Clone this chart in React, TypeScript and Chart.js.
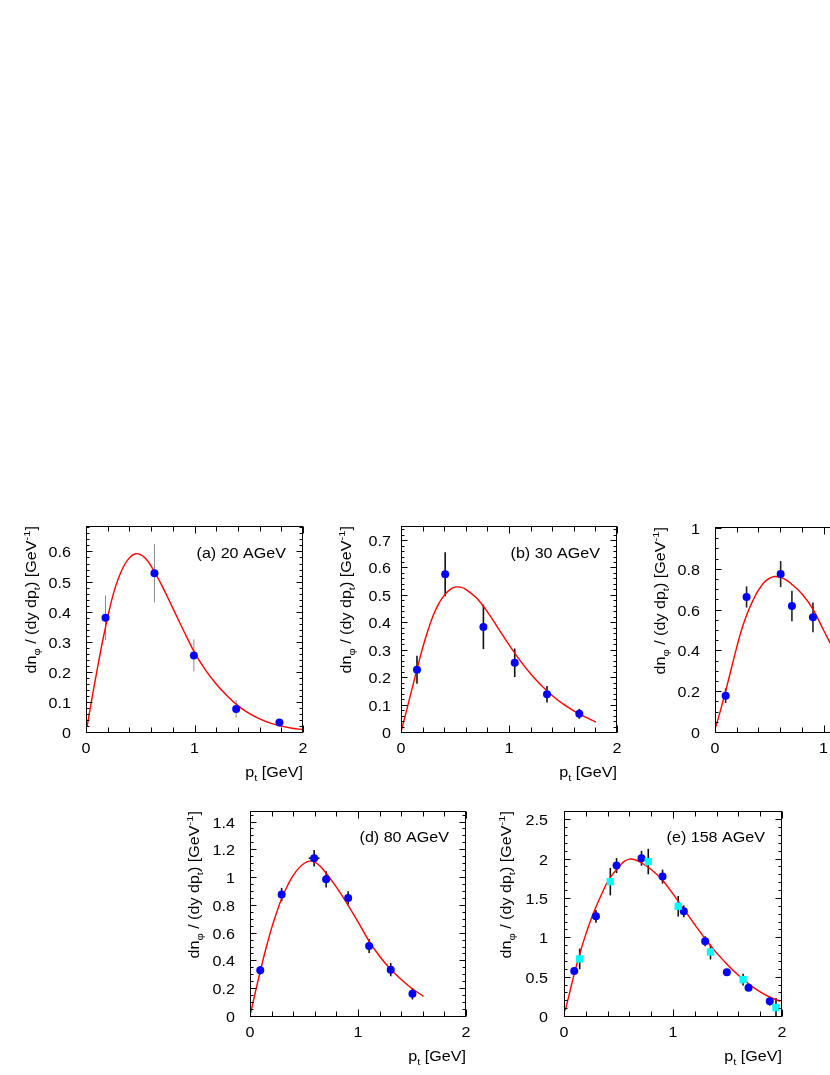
import React, { useEffect, useRef } from 'react';
import { Chart, registerables } from 'chart.js';

Chart.register(...registerables);

const FONT = '"Liberation Sans", Arial, Helvetica, sans-serif';
const STRETCH = 1.15;
const FS = 14;

// ---------------- data ----------------
const xTicks = [0, 1, 2];

// (a) 20 AGeV
const aPt = [0.18, 0.631, 0.994, 1.384, 1.783];
const aVal = [0.383, 0.531, 0.258, 0.08, 0.035];
const aErr = [0.074, 0.097, 0.053, 0.029, 0.006];
const aFitPt = [0.01, 0.05, 0.1, 0.15, 0.2, 0.25, 0.3, 0.35, 0.4, 0.45, 0.5, 0.55, 0.6, 0.65, 0.7, 0.8, 0.9, 1.0, 1.1, 1.2, 1.3, 1.4, 1.5, 1.6, 1.7, 1.8, 1.9, 2.0];
const aFitVal = [0.02, 0.105, 0.205, 0.3, 0.385, 0.46, 0.515, 0.556, 0.582, 0.595, 0.594, 0.58, 0.555, 0.523, 0.49, 0.415, 0.34, 0.268, 0.21, 0.163, 0.124, 0.091, 0.066, 0.047, 0.033, 0.023, 0.016, 0.011];
const aYTicks = [0, 0.1, 0.2, 0.3, 0.4, 0.5, 0.6];

// (b) 30 AGeV
const bPt = [0.148, 0.409, 0.763, 1.053, 1.352, 1.651];
const bVal = [0.231, 0.579, 0.387, 0.256, 0.141, 0.07];
const bErr = [0.051, 0.08, 0.081, 0.052, 0.03, 0.018];
const bFitPt = [0.005, 0.05, 0.1, 0.15, 0.2, 0.25, 0.3, 0.35, 0.4, 0.45, 0.5, 0.55, 0.6, 0.7, 0.8, 0.9, 1.0, 1.1, 1.2, 1.3, 1.4, 1.5, 1.6, 1.7, 1.805];
const bFitVal = [0.011, 0.08, 0.158, 0.235, 0.31, 0.375, 0.43, 0.472, 0.502, 0.522, 0.532, 0.532, 0.524, 0.492, 0.442, 0.382, 0.322, 0.266, 0.216, 0.173, 0.137, 0.106, 0.081, 0.06, 0.04];
const bYTicks = [0, 0.1, 0.2, 0.3, 0.4, 0.5, 0.6, 0.7];

// (c) 40 AGeV (cut at the right edge)
const cPt = [0.098, 0.291, 0.605, 0.709, 0.903];
const cVal = [0.183, 0.667, 0.779, 0.623, 0.567];
const cErr = [0.036, 0.052, 0.064, 0.075, 0.073];
const cFitPt = [0.006, 0.05, 0.1, 0.15, 0.2, 0.25, 0.3, 0.35, 0.4, 0.45, 0.5, 0.55, 0.6, 0.65, 0.7, 0.8, 0.9, 1.0, 1.1, 1.2];
const cFitVal = [0.028, 0.11, 0.21, 0.315, 0.42, 0.515, 0.59, 0.65, 0.7, 0.737, 0.758, 0.767, 0.764, 0.752, 0.733, 0.683, 0.61, 0.505, 0.405, 0.325];
const cYTicks = [0, 0.2, 0.4, 0.6, 0.8, 1];

// (d) 80 AGeV
const dPt = [0.095, 0.293, 0.594, 0.705, 0.909, 1.103, 1.303, 1.504];
const dVal = [0.336, 0.881, 1.143, 0.991, 0.857, 0.511, 0.341, 0.168];
const dErr = [0.03, 0.048, 0.06, 0.058, 0.048, 0.05, 0.048, 0.042];
const dPtErr = [0, 0, 0.05, 0, 0, 0, 0, 0];
const dFitPt = [0.006, 0.05, 0.1, 0.15, 0.2, 0.25, 0.3, 0.35, 0.4, 0.45, 0.5, 0.55, 0.6, 0.65, 0.7, 0.8, 0.9, 1.0, 1.1, 1.2, 1.3, 1.4, 1.5, 1.606];
const dFitVal = [0.029, 0.18, 0.345, 0.5, 0.64, 0.76, 0.865, 0.95, 1.02, 1.07, 1.105, 1.122, 1.115, 1.085, 1.04, 0.935, 0.815, 0.685, 0.55, 0.437, 0.345, 0.27, 0.205, 0.149];
const dYTicks = [0, 0.2, 0.4, 0.6, 0.8, 1, 1.2, 1.4];

// (e) 158 AGeV
const eCirclePt = [0.094, 0.293, 0.482, 0.711, 0.904, 1.099, 1.295, 1.494, 1.693, 1.888];
const eCircleVal = [0.585, 1.28, 1.924, 2.017, 1.784, 1.343, 0.962, 0.568, 0.371, 0.2];
const eCircleErr = [0.04, 0.081, 0.095, 0.095, 0.089, 0.075, 0.063, 0.04, 0.04, 0.055];
const eSquarePt = [0.144, 0.425, 0.773, 1.048, 1.344, 1.643, 1.945];
const eSquareVal = [0.738, 1.72, 1.975, 1.407, 0.826, 0.475, 0.12];
const eSquareErr = [0.131, 0.175, 0.162, 0.131, 0.095, 0.075, 0.12];
const eFitPt = [0.012, 0.05, 0.1, 0.15, 0.2, 0.25, 0.3, 0.35, 0.4, 0.45, 0.5, 0.55, 0.6, 0.65, 0.7, 0.8, 0.9, 1.0, 1.1, 1.2, 1.3, 1.4, 1.5, 1.6, 1.7, 1.8, 1.9, 1.985];
const eFitVal = [0.085, 0.3, 0.58, 0.83, 1.05, 1.25, 1.42, 1.575, 1.72, 1.82, 1.9, 1.975, 2.006, 1.998, 1.968, 1.875, 1.745, 1.565, 1.37, 1.175, 0.985, 0.815, 0.665, 0.53, 0.415, 0.32, 0.245, 0.2];
const eYTicks = [0, 0.5, 1, 1.5, 2, 2.5];

// ---------------- config ----------------
type Series = { x: number[]; y: number[]; ey: number[]; ex?: number[]; color: string; style: 'circle' | 'rect'; radius: number };
type PanelCfg = {
  label: string;
  L: number; T: number; R: number; B: number;
  yMax: number; yTicks: number[]; yMinorDiv: number;
  fitX: number[]; fitY: number[];
  series: Series[];
  errColor: string; errWidth: number;
  labelGap: number; titleOff: number; legendDy: number;
};

const BLUE = '#0000ff';
const CYAN = '#00ffff';

const panels: PanelCfg[] = [
  {
    label: '(a) 20 AGeV', L: 86, T: 526, R: 303, B: 733, yMax: 0.688, yTicks: aYTicks, yMinorDiv: 5,
    fitX: aFitPt, fitY: aFitVal,
    series: [{ x: aPt, y: aVal, ey: aErr, color: BLUE, style: 'circle', radius: 4 }],
    errColor: '#8a8a8a', errWidth: 1, labelGap: 15, titleOff: 50, legendDy: 32,
  },
  {
    label: '(b) 30 AGeV', L: 401, T: 526, R: 617, B: 733, yMax: 0.755, yTicks: bYTicks, yMinorDiv: 5,
    fitX: bFitPt, fitY: bFitVal,
    series: [{ x: bPt, y: bVal, ey: bErr, color: BLUE, style: 'circle', radius: 4 }],
    errColor: '#111', errWidth: 1.6, labelGap: 10, titleOff: 50, legendDy: 32,
  },
  {
    label: '', L: 715, T: 527, R: 932, B: 733, yMax: 1.01, yTicks: cYTicks, yMinorDiv: 4,
    fitX: cFitPt, fitY: cFitVal,
    series: [{ x: cPt, y: cVal, ey: cErr, color: BLUE, style: 'circle', radius: 4 }],
    errColor: '#222', errWidth: 1.6, labelGap: 15, titleOff: 50, legendDy: 32,
  },
  {
    label: '(d) 80 AGeV', L: 250, T: 811, R: 466, B: 1017, yMax: 1.483, yTicks: dYTicks, yMinorDiv: 4,
    fitX: dFitPt, fitY: dFitVal,
    series: [{ x: dPt, y: dVal, ey: dErr, ex: dPtErr, color: BLUE, style: 'circle', radius: 4 }],
    errColor: '#111', errWidth: 1.6, labelGap: 15, titleOff: 51, legendDy: 31,
  },
  {
    label: '(e) 158 AGeV', L: 564, T: 811, R: 782, B: 1017, yMax: 2.618, yTicks: eYTicks, yMinorDiv: 5,
    fitX: eFitPt, fitY: eFitVal,
    series: [
      { x: eCirclePt, y: eCircleVal, ey: eCircleErr, color: BLUE, style: 'circle', radius: 4 },
      { x: eSquarePt, y: eSquareVal, ey: eSquareErr, color: CYAN, style: 'rect', radius: 5.2 },
    ],
    errColor: '#111', errWidth: 1.6, labelGap: 16, titleOff: 53, legendDy: 31,
  },
];

// ---------------- text helpers ----------------
type Seg = { t: string; k?: 'sub' | 'sup' };
const yTitle: Seg[] = [
  { t: 'dn' }, { t: 'φ', k: 'sub' }, { t: ' / (dy dp' }, { t: 't', k: 'sub' }, { t: ') [GeV' }, { t: '-1', k: 'sup' }, { t: ']' },
];
const xTitle: Seg[] = [{ t: 'p' }, { t: 't', k: 'sub' }, { t: ' [GeV]' }];

function fmt(v: number) {
  return String(Math.round(v * 100) / 100);
}

function drawText(ctx: CanvasRenderingContext2D, s: string, x: number, y: number, align: CanvasTextAlign) {
  ctx.save();
  ctx.translate(x, y);
  ctx.scale(STRETCH, 1);
  ctx.font = `${FS}px ${FONT}`;
  ctx.textAlign = align;
  ctx.textBaseline = 'alphabetic';
  ctx.fillStyle = '#000';
  ctx.fillText(s, 0, 0);
  ctx.restore();
}

function drawRich(ctx: CanvasRenderingContext2D, segs: Seg[], x: number, y: number, rot: number) {
  ctx.save();
  ctx.translate(x, y);
  if (rot) ctx.rotate(rot);
  ctx.scale(STRETCH, 1);
  ctx.textBaseline = 'alphabetic';
  ctx.textAlign = 'left';
  ctx.fillStyle = '#000';
  const fontOf = (k?: string) => `${k ? FS * 0.7 : FS}px ${FONT}`;
  let total = 0;
  const widths = segs.map((s) => {
    ctx.font = fontOf(s.k);
    const w = ctx.measureText(s.t).width;
    total += w;
    return w;
  });
  let cx = -total;
  segs.forEach((s, i) => {
    ctx.font = fontOf(s.k);
    const dy = s.k === 'sub' ? FS * 0.3 : s.k === 'sup' ? -FS * 0.42 : 0;
    ctx.fillText(s.t, cx, dy);
    cx += widths[i];
  });
  ctx.restore();
}

function makePlugin(cfg: PanelCfg) {
  return {
    id: 'rootStyle',
    beforeDatasetsDraw(chart: any) {
      const ctx: CanvasRenderingContext2D = chart.ctx;
      const xs = chart.scales.x;
      const ys = chart.scales.y;
      const a = chart.chartArea;
      ctx.save();
      ctx.beginPath();
      ctx.rect(a.left, a.top, a.right - a.left, a.bottom - a.top);
      ctx.clip();
      ctx.strokeStyle = cfg.errColor;
      ctx.lineWidth = cfg.errWidth;
      cfg.series.forEach((s) => {
        s.x.forEach((xv, i) => {
          const px = xs.getPixelForValue(xv);
          const y1 = ys.getPixelForValue(s.y[i] + s.ey[i]);
          const y2 = ys.getPixelForValue(Math.max(0, s.y[i] - s.ey[i]));
          ctx.beginPath();
          ctx.moveTo(px, y1);
          ctx.lineTo(px, y2);
          ctx.stroke();
          const ex = s.ex ? s.ex[i] : 0;
          if (ex > 0) {
            const py = ys.getPixelForValue(s.y[i]);
            ctx.beginPath();
            ctx.moveTo(xs.getPixelForValue(xv - ex), py);
            ctx.lineTo(xs.getPixelForValue(xv + ex), py);
            ctx.stroke();
          }
        });
      });
      ctx.restore();
    },
    afterDraw(chart: any) {
      const ctx: CanvasRenderingContext2D = chart.ctx;
      const xs = chart.scales.x;
      const ys = chart.scales.y;
      const a = chart.chartArea;
      ctx.save();
      ctx.strokeStyle = '#000';
      ctx.lineWidth = 1;
      const l = Math.round(a.left) + 0.5;
      const r = Math.round(a.right) - 0.5;
      const t = Math.round(a.top) + 0.5;
      const b = Math.round(a.bottom) - 0.5;
      ctx.strokeRect(l, t, r - l, b - t);
      // y ticks
      const yStep = cfg.yTicks[1] - cfg.yTicks[0];
      const yMinor = yStep / cfg.yMinorDiv;
      ctx.beginPath();
      for (let k = 0; ; k++) {
        const v = k * yMinor;
        if (v > cfg.yMax + 1e-9) break;
        const len = k % cfg.yMinorDiv === 0 ? 6 : 3;
        const py = Math.round(ys.getPixelForValue(v)) - 0.5;
        ctx.moveTo(l, py);
        ctx.lineTo(l + len, py);
        ctx.moveTo(r, py);
        ctx.lineTo(r - len, py);
      }
      // x ticks
      const xMinorDiv = 5;
      const xMinor = (xTicks[1] - xTicks[0]) / xMinorDiv;
      for (let k = 0; ; k++) {
        const v = k * xMinor;
        if (v > xTicks[xTicks.length - 1] + 1e-9) break;
        const len = k % xMinorDiv === 0 ? 7 : 5;
        const px = Math.round(xs.getPixelForValue(v)) + 0.5;
        ctx.moveTo(px, b);
        ctx.lineTo(px, b - len);
        ctx.moveTo(px, t);
        ctx.lineTo(px, t + len);
      }
      ctx.stroke();
      ctx.restore();
      // tick labels
      cfg.yTicks.forEach((v) => {
        drawText(ctx, fmt(v), a.left - cfg.labelGap, ys.getPixelForValue(v) + 5, 'right');
      });
      xTicks.forEach((v) => {
        drawText(ctx, fmt(v), xs.getPixelForValue(v), a.bottom + 20, 'center');
      });
      // titles
      drawRich(ctx, xTitle, a.right, a.bottom + 44, 0);
      drawRich(ctx, yTitle, a.left - cfg.titleOff, a.top, -Math.PI / 2);
      if (cfg.label) drawText(ctx, cfg.label, a.right - 17, a.top + cfg.legendDy, 'right');
    },
  };
}

function Panel({ cfg }: { cfg: PanelCfg }) {
  const ref = useRef<HTMLCanvasElement>(null);
  const CL = Math.floor(cfg.L) - 86;
  const CT = Math.floor(cfg.T) - 12;
  const W = Math.ceil(cfg.R) - CL + 14;
  const H = Math.ceil(cfg.B) - CT + 70;
  useEffect(() => {
    const canvas = ref.current!;
    const datasets: any[] = [
      {
        type: 'line',
        data: cfg.fitX.map((x, i) => ({ x, y: cfg.fitY[i] })),
        borderColor: '#ff0000',
        borderWidth: 1.4,
        pointRadius: 0,
        fill: false,
        showLine: true,
        tension: 0.4,
        order: 5,
      },
      ...cfg.series.map((s, si) => ({
        type: 'scatter',
        data: s.x.map((x, i) => ({ x, y: s.y[i] })),
        backgroundColor: s.color,
        borderColor: s.color,
        borderWidth: 0,
        pointStyle: s.style,
        pointRadius: s.radius,
        order: 2 - si,
      })),
    ];
    const chart = new Chart(canvas, {
      type: 'scatter',
      data: { datasets },
      options: {
        animation: false,
        responsive: false,
        maintainAspectRatio: false,
        devicePixelRatio: 1,
        events: [],
        layout: { padding: { left: 0, top: cfg.T - CT, right: CL + W - cfg.R, bottom: 0 } },
        plugins: { legend: { display: false }, tooltip: { enabled: false }, title: { display: false } },
        scales: {
          x: {
            type: 'linear', min: 0, max: 2,
            ticks: { display: false },
            grid: { display: false },
            border: { display: false },
            afterFit: (s: any) => { s.height = CT + H - cfg.B; },
          },
          y: {
            type: 'linear', min: 0, max: cfg.yMax,
            ticks: { display: false },
            grid: { display: false },
            border: { display: false },
            afterFit: (s: any) => { s.width = cfg.L - CL; },
          },
        },
      } as any,
      plugins: [makePlugin(cfg)],
    });
    return () => chart.destroy();
  }, []);
  return (
    <canvas
      ref={ref}
      width={W}
      height={H}
      style={{ position: 'absolute', left: CL, top: CT, width: W, height: H }}
    />
  );
}

export default function App() {
  return (
    <div style={{ position: 'absolute', left: 0, top: 0, width: 830, height: 1075, overflow: 'hidden', background: '#fff' }}>
      {panels.map((p, i) => (
        <Panel key={i} cfg={p} />
      ))}
    </div>
  );
}
